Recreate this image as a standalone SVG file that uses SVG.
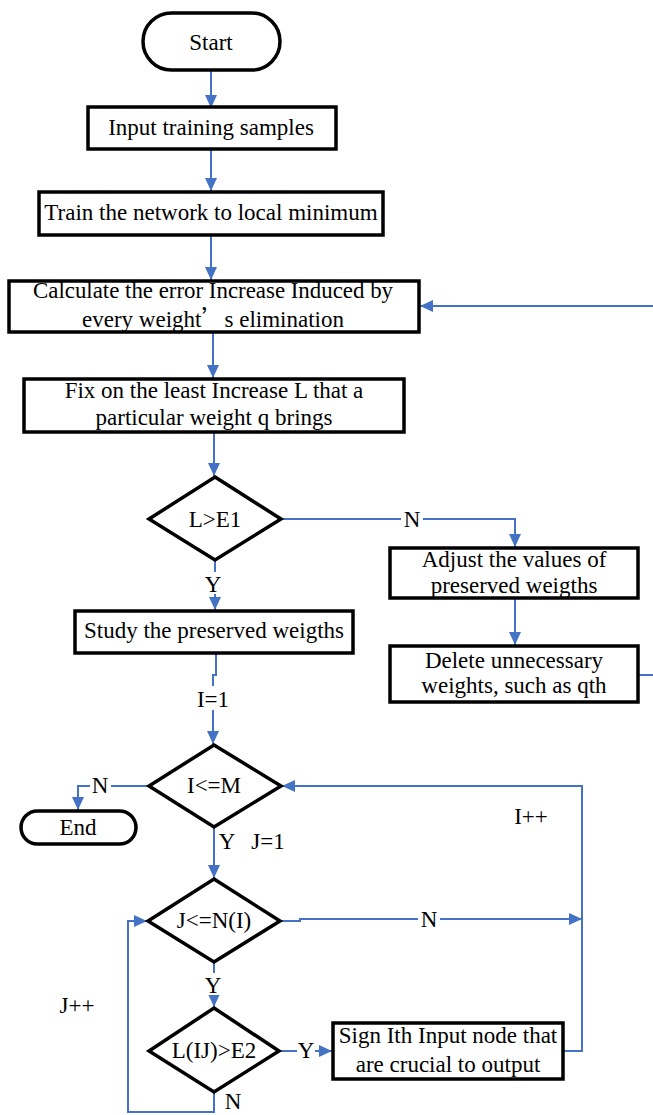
<svg xmlns="http://www.w3.org/2000/svg" width="653" height="1115" viewBox="0 0 653 1115">
<style>
.box{fill:#fff;stroke:#000;stroke-width:3.5;stroke-linejoin:miter}
.t{font-family:"Liberation Serif","Times New Roman",serif;font-size:23px;fill:#000;text-anchor:middle}
.c{fill:none;stroke:#4472C4;stroke-width:2}
.bg{fill:#fff}
</style>
<defs>
<marker id="ah" markerUnits="userSpaceOnUse" markerWidth="13" markerHeight="12" refX="13" refY="6" orient="auto">
<path d="M0,0 L13,6 L0,12 z" fill="#4472C4"/>
</marker>
</defs>
<rect width="653" height="1115" fill="#fff"/>
<g id="connectors">
<path class="c" d="M211,70 V108" marker-end="url(#ah)"/>
<path class="c" d="M211,149 V191" marker-end="url(#ah)"/>
<path class="c" d="M211,235 V280" marker-end="url(#ah)"/>
<path class="c" d="M213,332 V378" marker-end="url(#ah)"/>
<path class="c" d="M214,432 V476" marker-end="url(#ah)"/>
<path class="c" d="M281,519 H515 V547" marker-end="url(#ah)"/>
<path class="c" d="M515,598 V645" marker-end="url(#ah)"/>
<path class="c" d="M638,675 H660 V306 H420" marker-end="url(#ah)"/>
<path class="c" d="M215,560 V610" marker-end="url(#ah)"/>
<path class="c" d="M216,653 V675 H213 V744" marker-end="url(#ah)"/>
<path class="c" d="M149,786 H78 V810" marker-end="url(#ah)"/>
<path class="c" d="M214,827 V878" marker-end="url(#ah)"/>
<path class="c" d="M280,921 H300 V919 H582" marker-end="url(#ah)"/>
<path class="c" d="M214,962 V1007" marker-end="url(#ah)"/>
<path class="c" d="M279,1051 H332" marker-end="url(#ah)"/>
<path class="c" d="M563,1051 H582 V786 H282" marker-end="url(#ah)"/>
<path class="c" d="M214,1092 V1112 H128 V921 H147" marker-end="url(#ah)"/>
<rect class="bg" x="401" y="509" width="22" height="20"/>
<text class="t" x="412" y="527">N</text>
<rect class="bg" x="204" y="572" width="18" height="22"/>
<text class="t" x="213" y="592">Y</text>
<rect class="bg" x="195" y="686" width="36" height="24"/>
<text class="t" x="213" y="707">I=1</text>
<rect class="bg" x="90" y="776" width="21" height="20"/>
<text class="t" x="100" y="793">N</text>
<text class="t" x="227" y="849">Y</text>
<text class="t" x="268" y="849">J=1</text>
<text class="t" x="531" y="824">I++</text>
<rect class="bg" x="418" y="909" width="22" height="20"/>
<text class="t" x="429" y="927">N</text>
<rect class="bg" x="204" y="973" width="18" height="22"/>
<text class="t" x="213" y="993">Y</text>
<text class="t" x="77" y="1013">J++</text>
<rect class="bg" x="297" y="1041" width="18" height="20"/>
<text class="t" x="306" y="1058">Y</text>
<text class="t" x="233" y="1109">N</text>
</g>
<g id="start">
<rect class="box" x="143" y="13" width="137" height="57" rx="28.5"/>
<text class="t" x="211" y="50">Start</text>
</g>
<g id="input">
<rect class="box" x="88" y="107" width="248" height="42"/>
<text class="t" x="211" y="135">Input training samples</text>
</g>
<g id="train">
<rect class="box" x="39" y="192" width="344" height="43"/>
<text class="t" x="211" y="220">Train the network to local minimum</text>
</g>
<g id="calculate">
<rect class="box" x="9" y="281" width="410" height="51"/>
<text class="t" x="213" y="298" textLength="360" lengthAdjust="spacingAndGlyphs">Calculate the error Increase Induced by</text>
<text class="t" x="213" y="327">every weight<tspan font-family="Noto Sans CJK SC">’</tspan>s elimination</text>
</g>
<g id="fix">
<rect class="box" x="24" y="379" width="380" height="53"/>
<text class="t" x="214" y="398">Fix on the least Increase L that a</text>
<text class="t" x="214" y="425">particular weight q brings</text>
</g>
<g id="d1">
<polygon class="box" points="215,477 281,519 215,560 149,519"/>
<text class="t" x="215" y="527">L&gt;E1</text>
</g>
<g id="adjust">
<rect class="box" x="390" y="548" width="248" height="50"/>
<text class="t" x="514" y="567">Adjust the values of</text>
<text class="t" x="514" y="593">preserved weigths</text>
</g>
<g id="delete">
<rect class="box" x="390" y="646" width="248" height="56"/>
<text class="t" x="514" y="668">Delete unnecessary</text>
<text class="t" x="514" y="693">weights, such as qth</text>
</g>
<g id="study">
<rect class="box" x="75" y="611" width="278" height="42"/>
<text class="t" x="214" y="638">Study the preserved weigths</text>
</g>
<g id="d2">
<polygon class="box" points="214,745 281,786 214,827 149,786"/>
<text class="t" x="214" y="793">I&lt;=M</text>
</g>
<g id="end">
<rect class="box" x="21" y="811" width="115" height="33" rx="16.5"/>
<text class="t" x="78" y="835">End</text>
</g>
<g id="d3">
<polygon class="box" points="214,879 280,921 214,962 148,921"/>
<text class="t" x="214" y="928">J&lt;=N(I)</text>
</g>
<g id="d4">
<polygon class="box" points="214,1008 279,1051 214,1092 149,1051"/>
<text class="t" x="214" y="1058">L(IJ)&gt;E2</text>
</g>
<g id="sign">
<rect class="box" x="333" y="1023" width="230" height="56"/>
<text class="t" x="448" y="1043">Sign Ith Input node that</text>
<text class="t" x="448" y="1072">are crucial to output</text>
</g>
</svg>
